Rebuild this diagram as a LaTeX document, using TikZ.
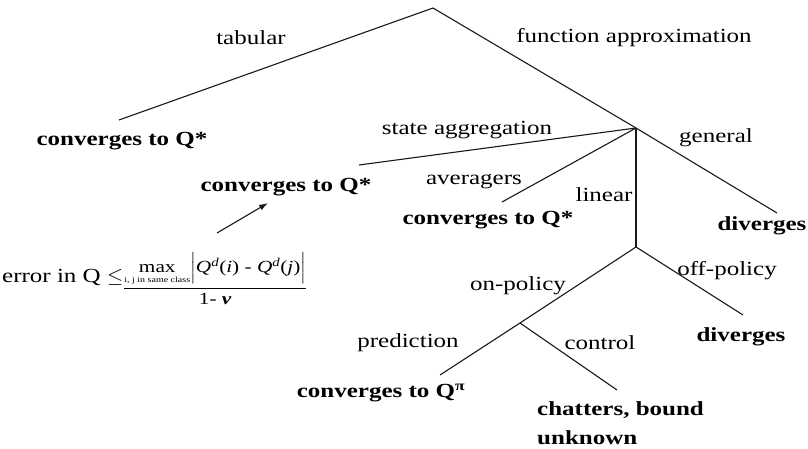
\documentclass[tikz,border=0pt]{standalone}
\usepackage{amsmath}
\usepackage{fontspec}
\setmainfont[FakeStretch=1.25]{Liberation Serif}
\usetikzlibrary{arrows.meta}

\begin{document}
\begin{tikzpicture}[
    x=1pt, y=-1pt,
    >={Latex[length=9pt, width=6pt]},
    branch/.style={line width=1.1pt, black!90},
    edgelbl/.style={inner sep=0pt, font=\fontsize{20}{24}\selectfont},
    outcome/.style={edgelbl, font=\fontsize{20}{29}\selectfont\bfseries}
]
\useasboundingbox (0,0) rectangle (808,449);

% Branch points
\coordinate (root) at (433,8);
\coordinate (fa) at (636,128);
\coordinate (lin) at (636,247);
\coordinate (onp) at (520,323);

% Line ends
\coordinate (tabEnd) at (119,120);
\coordinate (aggEnd) at (359,165);
\coordinate (avgEnd) at (502,202);
\coordinate (genEnd) at (777,213);
\coordinate (offEnd) at (743,315);
\coordinate (predEnd) at (440,375);
\coordinate (ctrlEnd) at (617,390);

% Branch labels
\node[edgelbl] (tab) at (251,38) {tabular};
\node[edgelbl] (funap) at (634,38) {function approximation};
\node[edgelbl] (agg) at (467,130) {state aggregation};
\node[edgelbl] (gen) at (716,138) {general};
\node[edgelbl] (avg) at (474,182) {averagers};
\node[edgelbl] (linlbl) at (604,195) {linear};
\node[edgelbl] (onpol) at (518,286) {on-policy};
\node[edgelbl] (offpol) at (727,271) {off-policy};
\node[edgelbl] (pred) at (408,343) {prediction};
\node[edgelbl] (ctrl) at (600,343) {control};

% Outcomes
\node[outcome] (conv1) at (122,141) {converges to Q*};
\node[outcome] (conv2) at (286,187) {converges to Q*};
\node[outcome] (conv3) at (488,220) {converges to Q*};
\node[outcome] (div1) at (762,226) {diverges};
\node[outcome] (div2) at (741,337) {diverges};
\node[outcome] (conv4) at (381,393) {converges to Q\textsuperscript{π}};
\node[outcome, anchor=north west, align=left] (chat) at (537,401) {chatters, bound\\unknown};

% Error bound
\node[edgelbl, anchor=base west] (bound) at (2,282) {error in Q $\leq$\raisebox{-11pt}{\fontsize{17}{20}\selectfont$\dfrac{\underset{\text{\fontsize{8}{9}\selectfont i, j in same class}}{\text{max}}\Big|\text{\textit{Q}\textsuperscript{\textit{d}}(\textit{i}) - \textit{Q}\textsuperscript{\textit{d}}(\textit{j})}\Big|}{\text{1- \textbf{\textit{v}}}}$}};
\coordinate (bndTail) at (217,233);
\coordinate (bndHead) at (268,203);

% Tree
\draw[branch] (tabEnd) -- (root) -- (fa) -- (genEnd);
\draw[branch] (fa) -- (aggEnd);
\draw[branch] (fa) -- (avgEnd);
\draw[branch] (fa) -- (lin);
\draw[branch] (lin) -- (offEnd);
\draw[branch] (lin) -- (onp) -- (predEnd);
\draw[branch] (onp) -- (ctrlEnd);

\draw[->, branch] (bndTail) -- (bndHead);

\end{tikzpicture}
\end{document}
